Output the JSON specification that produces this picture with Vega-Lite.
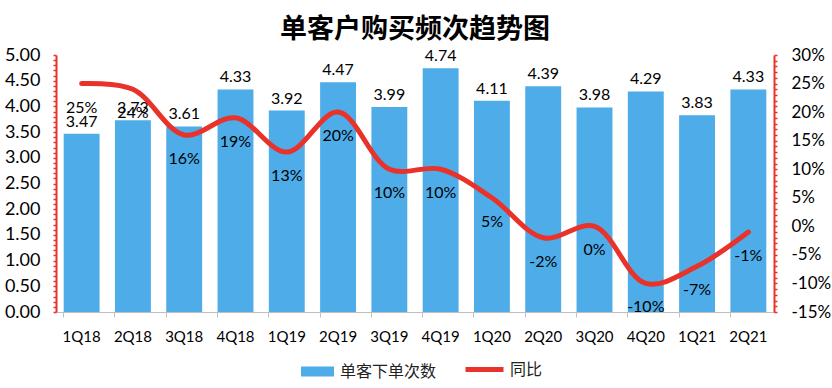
{
  "$schema": "https://vega.github.io/schema/vega-lite/v6.json",
  "autosize": "none",
  "width": 718,
  "height": 257,
  "padding": {"left": 56, "top": 55, "right": 58, "bottom": 76},
  "background": "white",
  "title": {
    "text": "单客户购买频次趋势图",
    "font": "Noto Sans CJK SC",
    "fontSize": 27,
    "fontWeight": "bold",
    "color": "#000000",
    "anchor": "middle",
    "offset": 2
  },
  "config": {
    "view": {"stroke": null},
    "font": "Lato",
    "locale": {"number": {"decimal": ".", "thousands": ",", "grouping": [3], "currency": ["$", ""], "minus": "-"}},
    "legend": {"orient": "none", "direction": "horizontal", "padding": 0}
  },
  "data": {
    "values": [
      {"q": "1Q18", "cnt": 3.47, "yoy": 0.25},
      {"q": "2Q18", "cnt": 3.73, "yoy": 0.24},
      {"q": "3Q18", "cnt": 3.61, "yoy": 0.16},
      {"q": "4Q18", "cnt": 4.33, "yoy": 0.19},
      {"q": "1Q19", "cnt": 3.92, "yoy": 0.13},
      {"q": "2Q19", "cnt": 4.47, "yoy": 0.20},
      {"q": "3Q19", "cnt": 3.99, "yoy": 0.10},
      {"q": "4Q19", "cnt": 4.74, "yoy": 0.10},
      {"q": "1Q20", "cnt": 4.11, "yoy": 0.05},
      {"q": "2Q20", "cnt": 4.39, "yoy": -0.02},
      {"q": "3Q20", "cnt": 3.98, "yoy": 0.00},
      {"q": "4Q20", "cnt": 4.29, "yoy": -0.10},
      {"q": "1Q21", "cnt": 3.83, "yoy": -0.07},
      {"q": "2Q21", "cnt": 4.33, "yoy": -0.01}
    ]
  },
  "encoding": {
    "x": {
      "field": "q",
      "type": "ordinal",
      "sort": null,
      "scale": {"paddingInner": 0.3, "paddingOuter": 0.15},
      "axis": {
        "title": null,
        "labelAngle": 0,
        "labelFont": "Lato",
        "labelFontSize": 15,
        "labelColor": "#000000",
        "labelPadding": 12,
        "domainColor": "#bfbfbf",
        "tickColor": "#bfbfbf",
        "tickSize": 5,
        "bandPosition": 0
      }
    }
  },
  "layer": [
    {
      "encoding": {
        "y": {
          "field": "cnt",
          "type": "quantitative",
          "scale": {"domain": [0, 5], "nice": false},
          "axis": {
            "title": null,
            "values": [0,0.1,0.2,0.3,0.4,0.5,0.6,0.7,0.8,0.9,1,1.1,1.2,1.3,1.4,1.5,1.6,1.7,1.8,1.9,2,2.1,2.2,2.3,2.4,2.5,2.6,2.7,2.8,2.9,3,3.1,3.2,3.3,3.4,3.5,3.6,3.7,3.8,3.9,4,4.1,4.2,4.3,4.4,4.5,4.6,4.7,4.8,4.9,5],
            "labelExpr": "(round(datum.value*100) % 50 == 0) ? format(datum.value, '.2f') : ''",
            "grid": false,
            "domainColor": "#e8322a",
            "domainWidth": 2,
            "tickColor": "#e8322a",
            "tickSize": 3,
            "tickWidth": 1.5,
            "labelFont": "Lato",
            "labelFontSize": 18,
            "labelColor": "#000000",
            "labelPadding": 13
          }
        }
      },
      "layer": [
        {
          "mark": {"type": "bar"},
          "encoding": {
            "color": {
              "datum": "单客下单次数",
              "type": "nominal",
              "scale": {"range": ["#4eace8"]},
              "legend": {
                "title": null,
                "legendX": 245,
                "legendY": 300,
                "symbolType": "M-1,-0.3H1V0.3H-1Z",
                "symbolSize": 1089,
                "symbolStrokeWidth": 0,
                "labelOffset": 6,
                "labelFont": "Noto Sans CJK SC",
                "labelFontSize": 16,
                "labelColor": "#222222"
              }
            }
          }
        },
        {
          "mark": {"type": "text", "baseline": "bottom", "dy": -4, "font": "Lato", "fontSize": 16, "color": "#000000"},
          "encoding": {"text": {"field": "cnt", "type": "quantitative", "format": ".2f"}}
        }
      ]
    },
    {
      "encoding": {
        "y": {
          "field": "yoy",
          "type": "quantitative",
          "scale": {"domain": [-0.15, 0.30], "nice": false},
          "axis": {
            "orient": "right",
            "title": null,
            "values": [-0.15,-0.14,-0.13,-0.12,-0.11,-0.10,-0.09,-0.08,-0.07,-0.06,-0.05,-0.04,-0.03,-0.02,-0.01,0,0.01,0.02,0.03,0.04,0.05,0.06,0.07,0.08,0.09,0.10,0.11,0.12,0.13,0.14,0.15,0.16,0.17,0.18,0.19,0.20,0.21,0.22,0.23,0.24,0.25,0.26,0.27,0.28,0.29,0.30],
            "labelExpr": "(round(datum.value*100) % 5 == 0) ? round(datum.value*100) + '%' : ''",
            "grid": false,
            "domainColor": "#e8322a",
            "domainWidth": 2,
            "tickColor": "#e8322a",
            "tickSize": 3,
            "tickWidth": 1.5,
            "labelFont": "Lato",
            "labelFontSize": 17,
            "labelColor": "#000000",
            "labelAlign": "left",
            "labelPadding": 14
          }
        }
      },
      "layer": [
        {
          "mark": {"type": "line", "interpolate": "catmull-rom", "strokeWidth": 5, "strokeCap": "round"},
          "encoding": {
            "stroke": {
              "datum": "同比",
              "type": "nominal",
              "scale": {"range": ["#e8322a"]},
              "legend": {
                "title": null,
                "legendX": 407,
                "legendY": 293,
                "symbolType": "stroke",
                "symbolSize": 1444,
                "symbolStrokeWidth": 5,
                "labelOffset": 4,
                "labelFont": "Noto Sans CJK SC",
                "labelFontSize": 16,
                "labelColor": "#222222"
              }
            }
          }
        },
        {
          "mark": {"type": "text", "baseline": "middle", "dy": 24, "font": "Lato", "fontSize": 16, "color": "#000000"},
          "encoding": {"text": {"field": "yoy", "type": "quantitative", "format": ".0%"}}
        }
      ]
    }
  ],
  "resolve": {"scale": {"y": "independent"}}
}
